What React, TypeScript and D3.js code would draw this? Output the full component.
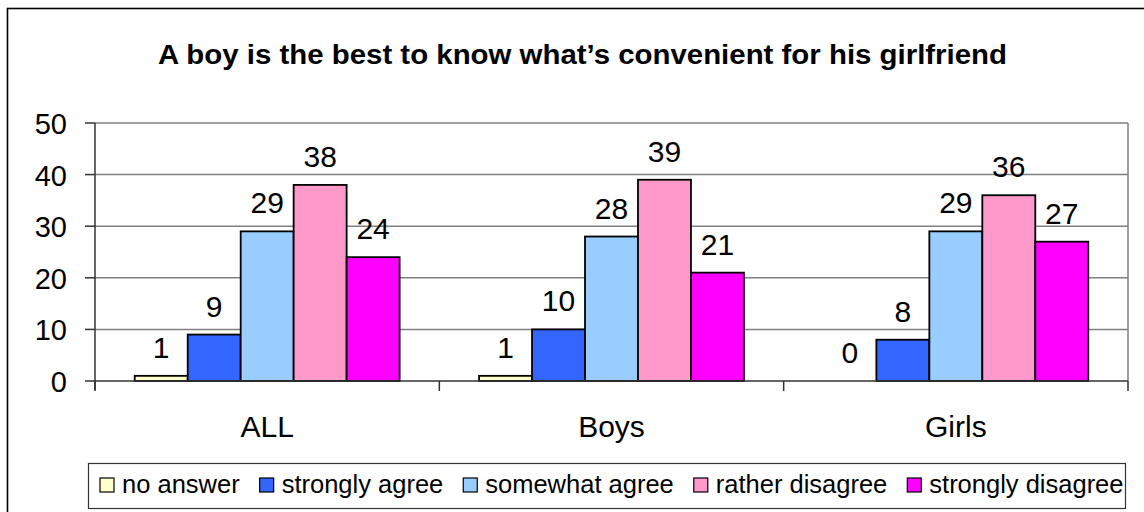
import React, { useEffect, useRef } from "react";
import * as d3 from "d3";

const title = "A boy is the best to know what\u2019s convenient for his girlfriend";
const categories = ["ALL", "Boys", "Girls"];
const seriesNames = ["no answer", "strongly agree", "somewhat agree", "rather disagree", "strongly disagree"];
const seriesColors = ["#FFFFCC", "#3366FF", "#99CCFF", "#FF99CC", "#FF00FF"];
const noAnswer = [1, 1, 0];
const stronglyAgree = [9, 10, 8];
const somewhatAgree = [29, 28, 29];
const ratherDisagree = [38, 39, 36];
const stronglyDisagree = [24, 21, 27];
const yTicks = [0, 10, 20, 30, 40, 50];

const seriesValues = [noAnswer, stronglyAgree, somewhatAgree, ratherDisagree, stronglyDisagree];

const W = 1144;
const H = 512;
const FONT = "'Liberation Sans', Arial, Helvetica, sans-serif";

export default function App() {
  const legendRef = useRef<SVGGElement | null>(null);

  const plotL = 95, plotR = 1128, plotT = 123, plotB = 381;
  const y = d3.scaleLinear().domain([0, 50]).range([plotB, plotT]);
  const x0 = d3.scaleBand<string>().domain(categories).range([plotL, plotR]).padding(0);
  const x1 = d3.scaleBand<string>().domain(seriesNames).range([0, x0.bandwidth()]).paddingInner(0).paddingOuter(0.75);
  const boundaries = [...categories.map((c) => x0(c) as number), plotR];

  useEffect(() => {
    const g = d3.select(legendRef.current);
    if (!g.node()) return;
    g.selectAll("*").remove();
    let cx = 100;
    seriesNames.forEach((name, i) => {
      g.append("rect")
        .attr("x", cx)
        .attr("y", 478)
        .attr("width", 14)
        .attr("height", 14)
        .attr("fill", seriesColors[i])
        .attr("stroke", "#000")
        .attr("stroke-width", 1.2);
      const t = g.append("text")
        .attr("x", cx + 22)
        .attr("y", 493)
        .attr("font-family", FONT)
        .attr("font-size", 25.5)
        .attr("fill", "#000")
        .text(name);
      const len = (t.node() as SVGTextElement).getComputedTextLength();
      cx = cx + 22 + len + 20;
    });
  }, []);

  return (
    <svg width={W} height={H} style={{ position: "absolute", left: 0, top: 0, background: "#fff" }}>
      <rect x={0} y={0} width={W} height={H} fill="#fff" />
      <rect x={7.5} y={8.5} width={1200} height={600} fill="none" stroke="#000" strokeWidth={1.6} />
      <text
        x={582.5}
        y={64}
        textAnchor="middle"
        fontFamily={FONT}
        fontWeight="bold"
        fontSize={27}
        textLength={849}
        lengthAdjust="spacingAndGlyphs"
        fill="#000"
      >
        {title}
      </text>

      {/* gridlines */}
      {yTicks.filter((t) => t > 0).map((t) => (
        <line key={"g" + t} x1={plotL} x2={plotR} y1={y(t)} y2={y(t)} stroke="#808080" strokeWidth={1.5} />
      ))}
      <line x1={plotR} x2={plotR} y1={plotT} y2={plotB} stroke="#808080" strokeWidth={1.5} />

      {/* bars */}
      {categories.map((c, ci) => (
        <g key={c} transform={`translate(${x0(c)},0)`}>
          {seriesNames.map((s, si) => {
            const v = seriesValues[si][ci];
            const bx = x1(s) as number;
            const bw = x1.bandwidth();
            return (
              <g key={s}>
                {v > 0 && (
                  <rect
                    x={bx}
                    y={y(v)}
                    width={bw}
                    height={y(0) - y(v)}
                    fill={seriesColors[si]}
                    stroke="#000"
                    strokeWidth={1.8}
                  />
                )}
                <text
                  x={bx + bw / 2}
                  y={y(v) - 18}
                  textAnchor="middle"
                  fontFamily={FONT}
                  fontSize={30}
                  fill="#000"
                >
                  {v}
                </text>
              </g>
            );
          })}
        </g>
      ))}

      {/* axes */}
      <line x1={plotL} x2={plotL} y1={plotT} y2={390} stroke="#333" strokeWidth={1.5} />
      <line x1={plotL} x2={plotR} y1={plotB} y2={plotB} stroke="#333" strokeWidth={1.5} />
      {yTicks.map((t) => (
        <g key={"t" + t}>
          <line x1={85} x2={plotL} y1={y(t)} y2={y(t)} stroke="#333" strokeWidth={1.5} />
          <text x={67} y={y(t) + 11} textAnchor="end" fontFamily={FONT} fontSize={29} fill="#000">
            {t}
          </text>
        </g>
      ))}
      {boundaries.map((bx, i) => (
        <line key={"b" + i} x1={bx} x2={bx} y1={plotB} y2={391} stroke="#333" strokeWidth={1.5} />
      ))}
      {categories.map((c) => (
        <text
          key={"c" + c}
          x={(x0(c) as number) + x0.bandwidth() / 2}
          y={437}
          textAnchor="middle"
          fontFamily={FONT}
          fontSize={30}
          fill="#000"
        >
          {c}
        </text>
      ))}

      {/* legend */}
      <rect x={88.5} y={463.5} width={1037} height={45} fill="#fff" stroke="#333" strokeWidth={1.2} />
      <g ref={legendRef} />
    </svg>
  );
}
